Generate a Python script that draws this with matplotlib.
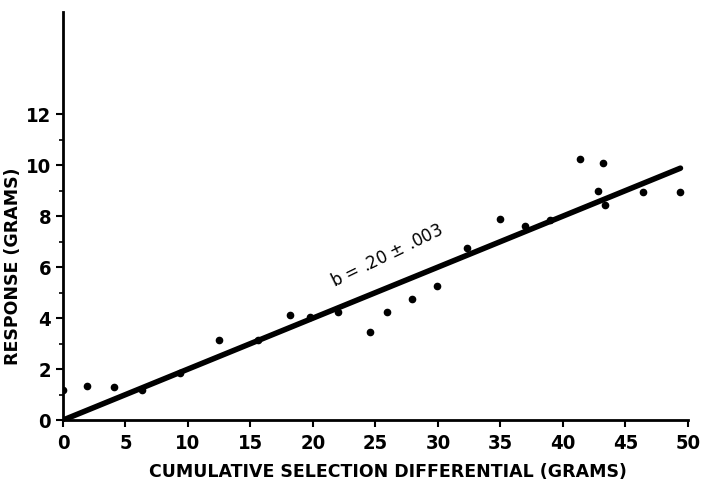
import matplotlib.pyplot as plt
import numpy as np

# cumulative selection differential (grams) and response (grams)
sel_diff = [0.0, 1.9, 4.1, 6.3, 9.4, 12.5, 15.6, 18.2, 19.8, 22.0, 24.6,
            25.9, 27.9, 29.9, 32.3, 35.0, 37.0, 39.0, 41.4, 42.8, 43.2,
            43.4, 46.4, 49.4]
response = [1.18, 1.35, 1.29, 1.18, 1.86, 3.16, 3.16, 4.14, 4.03, 4.22, 3.46,
            4.25, 4.75, 5.27, 6.75, 7.9, 7.6, 7.84, 10.22, 8.98, 10.1,
            8.43, 8.95, 8.95]

# fitted regression through the origin
b = 0.20
x_fit = np.array([0.0, 49.4])
y_fit = b * x_fit

plt.rcParams['font.family'] = ['DejaVu Sans']

fig = plt.figure(figsize=(7.03, 4.84), dpi=100)
ax = fig.add_axes([0.0896, 0.132, 0.889, 0.843])

ax.plot(x_fit, y_fit, color='black', lw=4, solid_capstyle='round')
ax.plot(sel_diff, response, 'o', color='black', ms=4.5)

ax.text(25.9, 6.45, 'b = .20 $\\pm$ .003', rotation=26, ha='center', va='center',
        fontsize=12)

ax.set_xlim(0, 50)
ax.set_ylim(0, 16)
ax.set_xticks(np.arange(0, 51, 5))
ax.set_yticks(np.arange(0, 13, 2))
ax.set_yticks(np.arange(1, 13, 2), minor=True)
ax.tick_params(which='major', length=5, width=1.5)
ax.tick_params(which='minor', length=3, width=1.2)
ax.tick_params(axis='x', pad=5)
for lbl in ax.get_xticklabels() + ax.get_yticklabels():
    lbl.set_fontsize(14.5)
    lbl.set_fontweight('bold')
    lbl.set_fontstretch('condensed')

for side in ['top', 'right']:
    ax.spines[side].set_visible(False)
for side in ['left', 'bottom']:
    ax.spines[side].set_linewidth(2)

ax.set_xlabel('CUMULATIVE SELECTION DIFFERENTIAL (GRAMS)', fontsize=12.5,
              fontweight='bold')
ax.xaxis.set_label_coords(0.52, -0.105)
ax.set_ylabel('RESPONSE (GRAMS)', fontsize=12.5, fontweight='bold')
ax.yaxis.set_label_coords(-0.065, 0.377)

fig.savefig('out.png')
